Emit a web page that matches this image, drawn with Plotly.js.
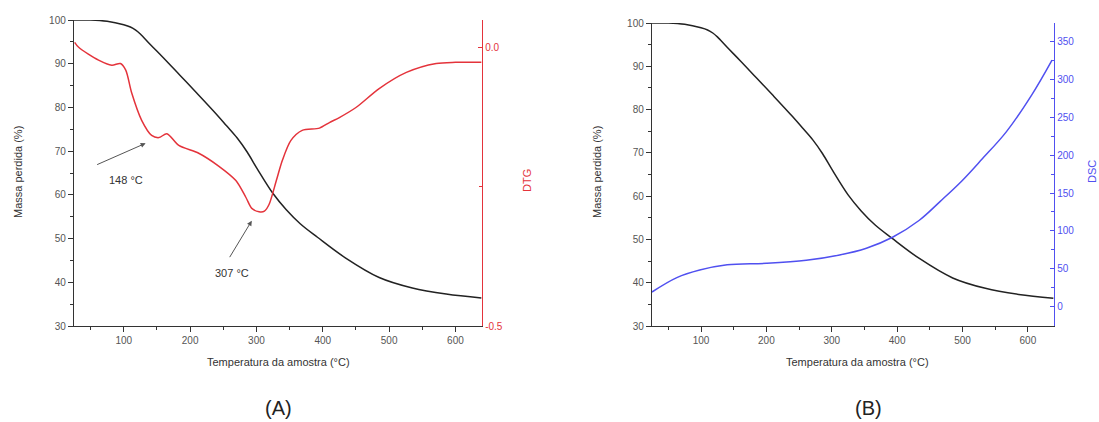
<!DOCTYPE html>
<html><head><meta charset="utf-8">
<script src="https://cdn.plot.ly/plotly-3.0.1.min.js"></script>
<style>body{margin:0;background:#fff}#c{width:1099px;height:422px}</style>
</head><body><div id="c"></div>
<script>
// TGA mass curve (same in both panels)
const massT = [25, 50, 75, 100, 110, 118, 125, 140, 160, 185, 210, 240, 255, 271, 286, 301, 325, 345, 366, 392, 434, 485, 535, 586, 639];
const massV = [100, 100, 99.7, 98.9, 98.4, 97.7, 96.8, 94.4, 91.3, 87.3, 83.3, 78.4, 75.8, 73.0, 69.8, 66.0, 60.3, 56.6, 53.4, 50.3, 45.6, 41.1, 38.7, 37.3, 36.4];
// DTG curve (panel A)
const dtgT = [26, 32, 62, 82, 95, 103, 112, 127, 142, 153, 165, 183, 213, 243, 269, 284, 293, 304, 312, 319, 330, 339, 352, 369, 395, 410, 425, 450, 485, 526, 571, 600, 639];
const dtgV = [0.009, 0.0, -0.023, -0.032, -0.029, -0.041, -0.082, -0.131, -0.158, -0.162, -0.155, -0.176, -0.19, -0.213, -0.239, -0.269, -0.289, -0.295, -0.294, -0.282, -0.239, -0.203, -0.167, -0.149, -0.145, -0.135, -0.126, -0.108, -0.074, -0.045, -0.029, -0.027, -0.027];
// DSC curve (panel B)
const dscT = [25, 63, 98, 140, 200, 261, 312, 353, 393, 434, 466, 499, 530, 567, 606, 637];
const dscV = [19, 38, 48, 55, 57, 61, 68, 77, 91.5, 114, 139, 166, 195, 231, 280, 326];

const RED = '#e4333b', BLUE = '#5050f0', BLACK = '#222';
const FONT = 'Liberation Sans, Arial, sans-serif';
const tickFont = {family: FONT, size: 10, color: '#555'};
const W = 1099, TOP = 20, BOT = 326;

const traces = [
  {x: massT, y: massV, xaxis: 'x', yaxis: 'y', mode: 'lines', line: {color: BLACK, width: 1.5, shape: 'spline', smoothing: 1}},
  {x: dtgT, y: dtgV, xaxis: 'x', yaxis: 'y2', mode: 'lines', line: {color: RED, width: 1.5, shape: 'spline', smoothing: 0.8}},
  {x: massT, y: massV, xaxis: 'x2', yaxis: 'y3', mode: 'lines', line: {color: BLACK, width: 1.5, shape: 'spline', smoothing: 1}},
  {x: dscT, y: dscV, xaxis: 'x2', yaxis: 'y4', mode: 'lines', line: {color: BLUE, width: 1.5, shape: 'spline', smoothing: 1}}
];

const xCommon = {range: [25, 640], dtick: 100, tick0: 0, ticks: 'outside', ticklen: 5, tickcolor: '#333',
  showline: true, linecolor: '#333', linewidth: 1.2, showgrid: false, zeroline: false, tickfont: tickFont,
  minor: {dtick: 50, ticks: 'outside', ticklen: 3, tickcolor: '#333'}};
const yMass = {range: [30, 100], dtick: 10, ticks: 'outside', ticklen: 5, tickcolor: '#333',
  showline: true, linecolor: '#333', linewidth: 1.2, showgrid: false, zeroline: false, tickfont: tickFont,
  minor: {dtick: 5, ticks: 'outside', ticklen: 3, tickcolor: '#333'}};

const ann = (text, x, y, opts) => Object.assign({text, x: x / W, y: (BOT - y) / (BOT - TOP), xref: 'paper', yref: 'paper',
  xanchor: 'center', yanchor: 'middle', showarrow: false, font: {family: FONT, size: 11, color: '#333'}}, opts || {});

const layout = {
  width: 1099, height: 422, showlegend: false, paper_bgcolor: '#fff', plot_bgcolor: '#fff',
  margin: {l: 0, r: 0, t: TOP, b: 422 - BOT},
  xaxis: Object.assign({}, xCommon, {domain: [74 / W, 482 / W], anchor: 'y'}),
  yaxis: Object.assign({}, yMass, {anchor: 'x', domain: [0, 1]}),
  yaxis2: {overlaying: 'y', anchor: 'x', side: 'right', range: [-0.5, 0.049], tickvals: [-0.5, 0], ticktext: ['-0.5', '0.0'],
    ticks: 'inside', ticklen: 4, tickcolor: RED, showline: true, linecolor: RED, linewidth: 1.2, showgrid: false, zeroline: false,
    tickfont: Object.assign({}, tickFont, {color: RED}), minor: {tickvals: [-0.25], ticks: 'inside', ticklen: 3, tickcolor: RED}},
  xaxis2: Object.assign({}, xCommon, {domain: [652 / W, 1054 / W], anchor: 'y3'}),
  yaxis3: Object.assign({}, yMass, {anchor: 'x2', domain: [0, 0.99]}),
  yaxis4: {overlaying: 'y3', anchor: 'x2', side: 'right', range: [-26, 375], dtick: 50,
    ticks: 'inside', ticklen: 4, tickcolor: BLUE, showline: true, linecolor: BLUE, linewidth: 1.2, showgrid: false, zeroline: false,
    tickfont: Object.assign({}, tickFont, {color: BLUE}), minor: {dtick: 25, ticks: 'inside', ticklen: 3, tickcolor: BLUE}},
  annotations: [
    ann('Massa perdida (%)', 18, 172, {textangle: -90}),
    ann('Massa perdida (%)', 597, 172, {textangle: -90}),
    ann('Temperatura da amostra (°C)', 278, 362),
    ann('Temperatura da amostra (°C)', 857, 362),
    ann('DTG', 527, 181, {textangle: -90, font: {family: FONT, size: 11, color: RED}}),
    ann('DSC', 1092, 172, {textangle: -90, font: {family: FONT, size: 11, color: BLUE}}),
    ann('(A)', 278, 408, {font: {family: FONT, size: 20, color: '#222'}}),
    ann('(B)', 868, 408, {font: {family: FONT, size: 20, color: '#222'}}),
    {text: '148 °C', x: 103, y: 63.3, xref: 'x', yref: 'y', showarrow: false, font: {family: FONT, size: 11, color: '#333'}},
    {text: '307 °C', x: 263, y: 42.2, xref: 'x', yref: 'y', showarrow: false, font: {family: FONT, size: 11, color: '#333'}},
    {text: '', x: 133, y: 71.8, xref: 'x', yref: 'y', showarrow: true, ax: -50, ay: 22, arrowhead: 2, arrowsize: 1, arrowwidth: 1, arrowcolor: '#555'},
    {text: '', x: 293, y: 54.1, xref: 'x', yref: 'y', showarrow: true, ax: -23, ay: 38, arrowhead: 2, arrowsize: 1, arrowwidth: 1, arrowcolor: '#555'}
  ]
};

Plotly.newPlot('c', traces, layout, {staticPlot: true, displayModeBar: false});
</script>
</body></html>
